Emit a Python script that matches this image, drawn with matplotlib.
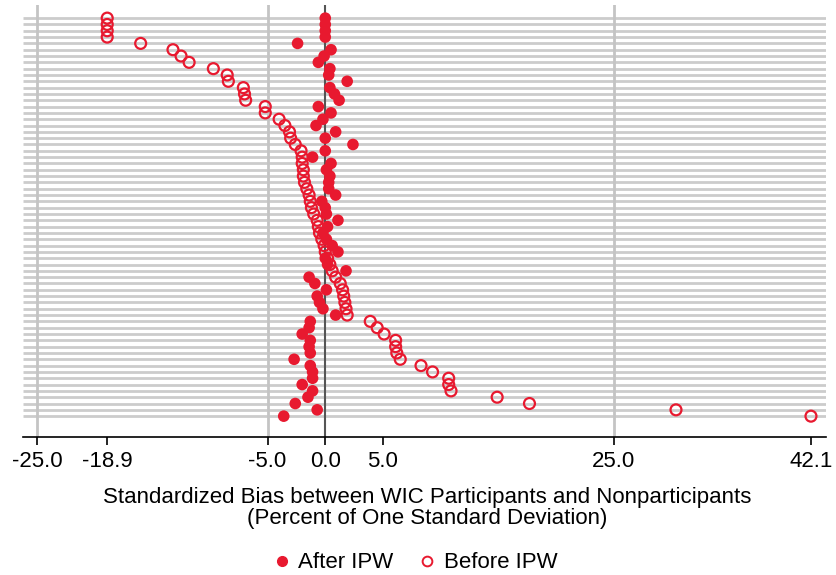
import numpy as np
import matplotlib
matplotlib.use("Agg")
import matplotlib.pyplot as plt
from matplotlib.lines import Line2D

plt.rcParams['font.family'] = ['Liberation Sans', 'DejaVu Sans']

# standardized bias per covariate, top row first
before_ipw = [-18.9, -18.9, -18.9, -18.9, -16.0, -13.2, -12.5, -11.8, -9.7, -8.5,
              -8.4, -7.1, -7.0, -6.9, -5.2, -5.2, -4.0, -3.5, -3.1, -3.0,
              -2.6, -2.1, -2.0, -2.0, -1.9, -1.9, -1.8, -1.6, -1.4, -1.3,
              -1.2, -1.0, -0.7, -0.6, -0.5, -0.3, -0.1, 0.0, 0.2, 0.4,
              0.6, 0.9, 1.3, 1.5, 1.6, 1.7, 1.8, 1.9, 3.9, 4.5,
              5.1, 6.1, 6.1, 6.2, 6.5, 8.3, 9.3, 10.7, 10.7, 10.9,
              14.9, 17.7, 30.4, 42.1]
after_ipw = [0.0, 0.0, 0.0, 0.0, -2.4, 0.5, -0.1, -0.6, 0.4, 0.3,
             1.9, 0.4, 0.8, 1.2, -0.6, 0.5, -0.2, -0.8, 0.9, 0.0,
             2.4, 0.0, -1.1, 0.5, 0.1, 0.4, 0.3, 0.3, 0.9, -0.3,
             0.0, 0.1, 1.1, 0.2, -0.2, 0.1, 0.6, 1.1, 0.0, 0.2,
             1.8, -1.4, -0.9, 0.1, -0.7, -0.5, -0.2, 0.9, -1.3, -1.4,
             -2.0, -1.3, -1.4, -1.3, -2.7, -1.3, -1.1, -1.1, -2.0, -1.1,
             -1.5, -2.6, -0.7, -3.6]
xticks = [-25.0, -18.9, -5.0, 0.0, 5.0, 25.0, 42.1]
xticklabels = ["-25.0", "-18.9", "-5.0", "0.0", "5.0", "25.0", "42.1"]
gridx = [-25.0, -5.0, 25.0]

red = '#E8192F'
rows = np.arange(len(before_ipw))

fig = plt.figure(figsize=(8.36, 5.75), dpi=100)
ax = fig.add_axes([0.0275, 0.24, 0.9605, 0.751])

xmin, xmax = -26.2, 43.4
ax.hlines(rows, xmin, xmax, color='#cccccc', lw=2, zorder=1)
for g in gridx:
    ax.axvline(g, color='#c4c4c4', lw=2, zorder=1)
ax.axvline(0, color='#555555', lw=1.5, zorder=2)

ax.scatter(before_ipw, rows, s=62, facecolors='none', edgecolors=red, linewidths=1.6, zorder=3)
ax.scatter(after_ipw, rows, s=70, color=red, edgecolors='none', zorder=4)

ax.set_xlim(xmin, xmax)
ax.set_ylim(len(rows) - 1 + 3.3, -2.05)
ax.set_yticks([])
for s in ['top', 'left', 'right']:
    ax.spines[s].set_visible(False)
ax.spines['bottom'].set_color('black')
ax.spines['bottom'].set_linewidth(1.2)
ax.set_xticks(xticks)
ax.set_xticklabels(xticklabels)
ax.tick_params(axis='x', length=6, width=1.2, labelsize=16, pad=4)

fig.text(0.511, 0.117, "Standardized Bias between WIC Participants and Nonparticipants\n(Percent of One Standard Deviation)",
         ha='center', va='center', fontsize=16, linespacing=1.0)

handles = [Line2D([], [], marker='o', ls='none', color=red, markersize=7),
           Line2D([], [], marker='o', ls='none', markerfacecolor='none', markeredgecolor=red,
                  markeredgewidth=1.4, markersize=7)]
fig.legend(handles, ["After IPW", "Before IPW"], loc='center', bbox_to_anchor=(0.495, 0.021),
           ncol=2, frameon=False, fontsize=16, handlelength=1, handletextpad=0.25, columnspacing=1.0)

fig.savefig('out.png', dpi=100)
